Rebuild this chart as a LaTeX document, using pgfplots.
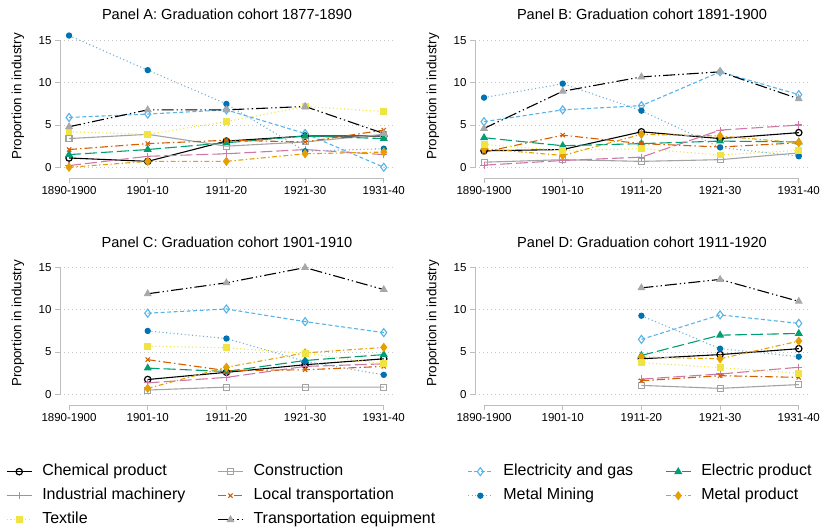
\documentclass[border=0pt]{standalone}
\usepackage{fontspec}
\setmainfont{Liberation Sans}
\usepackage{pgfplots}
\usepackage{pgfplotstable}
\pgfplotsset{compat=1.18}

% Okabe-Ito style palette
\definecolor{cCons}{HTML}{A3A3A3}
\definecolor{cElec}{HTML}{56B4E9}
\definecolor{cEprod}{HTML}{009E73}
\definecolor{cMach}{HTML}{CC79A7}
\definecolor{cLocal}{HTML}{D55E00}
\definecolor{cMine}{HTML}{0072B2}
\definecolor{cMetal}{HTML}{E69F00}
\definecolor{cText}{HTML}{F0E442}
\definecolor{cTransMark}{HTML}{A8A8A8}
\definecolor{axisgray}{HTML}{BDBDBD}

% Share of graduates employed in each industry, by survey decade (x = 0..4)
\pgfplotstableread{
x chem cons elec eprod mach local mine metal text trans
0 1.1  3.4  5.9  1.5   0.2  2.1   15.6 0.0   4.2  4.8
1 0.7  3.9  6.3  2.1   1.3  2.8   11.5 0.7   3.9  6.8
2 3.1  2.5  6.8  2.9   1.6  3.2   7.5  0.7   5.4  6.8
3 3.7  3.0  4.0  3.7   2.1  3.0   1.9  1.6   7.2  7.2
4 3.7  3.9  0.0  3.4   1.5  4.4   2.2  1.8   6.6  4.0
}\tabA
\pgfplotstableread{
x chem cons elec eprod mach local mine metal text trans
0 1.95 0.6  5.4  3.5   0.25 1.8   8.25 2.2   2.7  4.6
1 2.1  0.9  6.8  2.55  0.8  3.8   9.9  1.4   2.0  9.0
2 4.2  0.7  7.3  2.8   1.2  2.8   6.7  3.9   2.2  10.7
3 3.4  0.9  11.3 3.1   4.4  2.4   2.35 3.7   1.45 11.3
4 4.1  1.7  8.6  3.0   5.0  2.9   1.3  2.9   2.0  8.1
}\tabB
\pgfplotstableread{
x chem cons elec eprod mach local mine metal text trans
1 1.75 0.5  9.6  3.1   1.35 4.1   7.5  0.7   5.7  11.9
2 2.6  0.85 10.1 2.7   2.0  2.8   6.6  3.2   5.5  13.2
3 3.5  0.85 8.6  4.0   3.3  2.9   3.9  4.9   4.85 15.0
4 4.2  0.85 7.3  4.7   3.6  3.3   2.3  5.55  3.6  12.4
}\tabC
\pgfplotstableread{
x chem cons elec eprod mach local mine metal text trans
2 4.2  1.05 6.5  4.6   1.8  1.6   9.3  4.4   3.75 12.6
3 4.7  0.7  9.4  7.0   2.4  2.2   5.4  4.2   3.15 13.6
4 5.4  1.15 8.4  7.2   3.2  2.0   4.45 6.3   2.5  11.0
}\tabD

\pgfplotsset{
  sChem/.style={black, line width=1.1pt, solid, mark=o, mark size=3.2pt,
    mark options={solid, line width=1.2pt}},
  sCons/.style={cCons, line width=1.1pt, solid, mark=square, mark size=3.0pt,
    mark options={solid, line width=1.1pt}},
  sElec/.style={cElec, line width=1.1pt, dash pattern=on 4pt off 2.5pt, mark=diamond, mark size=4pt,
    mark options={solid, line width=1.1pt}},
  sEprod/.style={cEprod, line width=1.1pt, dash pattern=on 12pt off 4pt, mark=triangle*, mark size=3.6pt,
    mark options={solid}},
  sMach/.style={cMach, line width=1.1pt, dash pattern=on 12pt off 4pt, mark=+, mark size=3.6pt,
    mark options={solid, line width=1.1pt}},
  sLocal/.style={cLocal, line width=1.1pt, dash pattern=on 8pt off 3pt on 1.5pt off 3pt, mark=x, mark size=3pt,
    mark options={solid, line width=1.1pt}},
  sMine/.style={cMine!55!white, line width=1.1pt, dash pattern=on 1.1pt off 2.6pt, mark=*, mark size=2.6pt,
    mark options={solid, draw=cMine, fill=cMine}},
  sMetal/.style={cMetal, line width=1.1pt, dash pattern=on 5pt off 2.5pt on 1.3pt off 2.5pt, mark=diamond*, mark size=3.8pt,
    mark options={solid}},
  sText/.style={cText, line width=1.1pt, dash pattern=on 1.1pt off 2.6pt, mark=square*, mark size=2.9pt,
    mark options={solid}},
  sTrans/.style={black, line width=1.1pt, dash pattern=on 12pt off 3pt on 1.3pt off 3pt on 1.3pt off 3pt,
    mark=triangle*, mark size=3.6pt, mark options={solid, draw=cTransMark, fill=cTransMark}},
  panel/.style={
    scale only axis, width=334pt, height=145pt,
    xmin=-0.115, xmax=4.13, ymin=-1.27, ymax=15.9,
    axis lines=left,
    axis line style={-, draw=axisgray, line width=0.9pt},
    x axis line style={shorten <=9.05pt, shorten >=10.2pt},
    y axis line style={shorten <=10.2pt, shorten >=7.2pt},
    tick align=outside, major tick length=5pt,
    tick style={draw=axisgray, line width=0.9pt},
    xtick={0,1,2,3,4},
    xticklabels={1890-1900,1901-10,1911-20,1921-30,1931-40},
    ytick={0,5,10,15},
    ymajorgrids,
    grid style={draw=black!22, line width=0.8pt, dash pattern=on 0.8pt off 3.2pt},
    ticklabel style={font=\fontsize{11.5}{13}\selectfont},
    /pgf/number format/assume math mode=true,
    ylabel={Proportion in industry},
    ylabel style={font=\fontsize{13.4}{15}\selectfont, at={(axis description cs:-0.1257,0.562)}, anchor=center, rotate=0},
    title style={font=\fontsize{14.6}{17}\selectfont, at={(axis description cs:0.5,1)}, anchor=base, yshift=7pt},
    clip=false,
  },
}

\newcommand{\allseries}[1]{%
  \addplot[sChem]  table[x=x,y=chem]{#1};
  \addplot[sCons]  table[x=x,y=cons]{#1};
  \addplot[sElec]  table[x=x,y=elec]{#1};
  \addplot[sEprod] table[x=x,y=eprod]{#1};
  \addplot[sMach]  table[x=x,y=mach]{#1};
  \addplot[sLocal] table[x=x,y=local]{#1};
  \addplot[sMine]  table[x=x,y=mine]{#1};
  \addplot[sMetal] table[x=x,y=metal]{#1};
  \addplot[sText]  table[x=x,y=text]{#1};
  \addplot[sTrans] table[x=x,y=trans]{#1};
}

\begin{document}
\begin{tikzpicture}
\useasboundingbox (0pt,0pt) rectangle (825pt,-529pt);

\begin{axis}[panel, at={(60pt,-178pt)}, anchor=south west,
  title={Panel A: Graduation cohort 1877-1890}]
\allseries{\tabA}
\end{axis}

\begin{axis}[panel, at={(475pt,-178pt)}, anchor=south west,
  title={Panel B: Graduation cohort 1891-1900}]
\allseries{\tabB}
\end{axis}

\begin{axis}[panel, at={(475pt,-405pt)}, anchor=south west,
  title={Panel D: Graduation cohort 1911-1920}]
\allseries{\tabD}
\end{axis}

\begin{axis}[panel, at={(60pt,-405pt)}, anchor=south west,
  title={Panel C: Graduation cohort 1901-1910},
  legend columns=4,
  legend cell align=left,
  legend image code/.code={\draw[mark repeat=2,mark phase=2] plot coordinates {(0pt,0pt) (12.5pt,0pt) (25pt,0pt)};},
  legend style={at={(axis description cs:-0.1707,-0.3793)}, anchor=north west,
    draw=none, fill=none, font=\fontsize{16}{18}\selectfont,
    nodes={inner sep=2pt, text height=11.5pt, text depth=3.5pt},
    row sep=5pt,
    /tikz/every odd column/.append style={column sep=8pt},
    /tikz/every even column/.append style={column sep=30pt}}]
\allseries{\tabC}
\legend{Chemical product, Construction, Electricity and gas, Electric product,
  Industrial machinery, Local transportation, Metal Mining, Metal product,
  Textile, Transportation equipment}
\end{axis}
\end{tikzpicture}
\end{document}
